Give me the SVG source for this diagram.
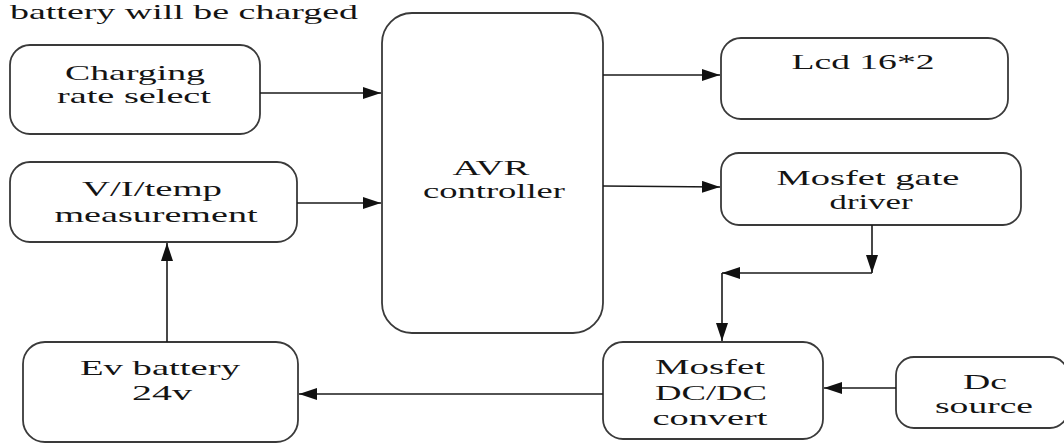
<svg xmlns="http://www.w3.org/2000/svg" width="1064" height="444" viewBox="0 0 1064 444">
<style>
.box{fill:#fff;stroke:#3a3a3a;stroke-width:1.8}
.t{font-family:Liberation Serif,Tinos,Times New Roman,Noto Serif,DejaVu Serif,FreeSerif,serif;font-size:21px;fill:#141414;text-anchor:middle}
.c{fill:none;stroke:#1a1a1a;stroke-width:1.6}
</style>
<defs>
<marker id="ah" viewBox="0 0 18 12" refX="18" refY="6" markerWidth="18" markerHeight="12" markerUnits="userSpaceOnUse" orient="auto">
<path d="M0,0 L18,6 L0,12 Z" fill="#111"/>
</marker>
</defs>
<rect width="1064" height="444" fill="#fff"/>
<text class="t" x="184" y="19" textLength="348" lengthAdjust="spacingAndGlyphs">battery will be charged</text>
<g id="charging">
<rect class="box" x="10" y="45" width="250" height="89" rx="20"/>
<text class="t" x="135" y="80" textLength="140" lengthAdjust="spacingAndGlyphs">Charging</text>
<text class="t" x="134" y="103" textLength="154" lengthAdjust="spacingAndGlyphs">rate select</text>
</g>
<g id="measurement">
<rect class="box" x="10" y="162" width="287" height="80" rx="20"/>
<text class="t" x="152" y="196" textLength="140" lengthAdjust="spacingAndGlyphs">V/I/temp</text>
<text class="t" x="156" y="222" textLength="203" lengthAdjust="spacingAndGlyphs">measurement</text>
</g>
<g id="avr">
<rect class="box" x="382" y="13" width="221" height="320" rx="30"/>
<text class="t" x="491" y="175" textLength="77" lengthAdjust="spacingAndGlyphs">AVR</text>
<text class="t" x="494" y="198" textLength="142" lengthAdjust="spacingAndGlyphs">controller</text>
</g>
<g id="lcd">
<rect class="box" x="721" y="38" width="287" height="81" rx="20"/>
<text class="t" x="863" y="69" textLength="143" lengthAdjust="spacingAndGlyphs">Lcd 16*2</text>
</g>
<g id="driver">
<rect class="box" x="721" y="153" width="300" height="72" rx="18"/>
<text class="t" x="868" y="185" textLength="183" lengthAdjust="spacingAndGlyphs">Mosfet gate</text>
<text class="t" x="871" y="209" textLength="83" lengthAdjust="spacingAndGlyphs">driver</text>
</g>
<g id="converter">
<rect class="box" x="603" y="342" width="220" height="97" rx="20"/>
<text class="t" x="710" y="374" textLength="110" lengthAdjust="spacingAndGlyphs">Mosfet</text>
<text class="t" x="711" y="400" textLength="112" lengthAdjust="spacingAndGlyphs">DC/DC</text>
<text class="t" x="710" y="425" textLength="115" lengthAdjust="spacingAndGlyphs">convert</text>
</g>
<g id="dcsource">
<rect class="box" x="896" y="357" width="172" height="71" rx="18"/>
<text class="t" x="985" y="389" textLength="44" lengthAdjust="spacingAndGlyphs">Dc</text>
<text class="t" x="984" y="413" textLength="98" lengthAdjust="spacingAndGlyphs">source</text>
</g>
<g id="battery">
<rect class="box" x="23" y="342" width="275" height="100" rx="22"/>
<text class="t" x="160" y="375" textLength="160" lengthAdjust="spacingAndGlyphs">Ev battery</text>
<text class="t" x="162" y="400" textLength="60" lengthAdjust="spacingAndGlyphs">24v</text>
</g>
<g id="connectors">
<line class="c" x1="260" y1="93" x2="381" y2="93" marker-end="url(#ah)"/>
<line class="c" x1="297" y1="203" x2="381" y2="203" marker-end="url(#ah)"/>
<line class="c" x1="603" y1="75" x2="720" y2="75" marker-end="url(#ah)"/>
<line class="c" x1="603" y1="186" x2="720" y2="187" marker-end="url(#ah)"/>
<line class="c" x1="872" y1="225" x2="872" y2="273" marker-end="url(#ah)"/>
<line class="c" x1="872" y1="273" x2="722" y2="273" marker-end="url(#ah)"/>
<line class="c" x1="722" y1="273" x2="722" y2="341" marker-end="url(#ah)"/>
<line class="c" x1="896" y1="388" x2="824" y2="388" marker-end="url(#ah)"/>
<line class="c" x1="603" y1="394" x2="299" y2="394" marker-end="url(#ah)"/>
<line class="c" x1="167" y1="342" x2="167" y2="243" marker-end="url(#ah)"/>
</g>
</svg>
